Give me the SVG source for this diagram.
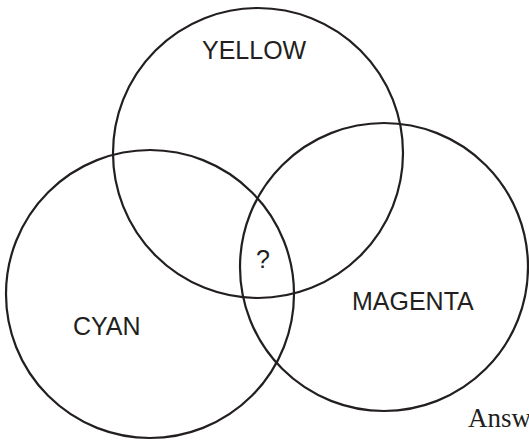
<svg xmlns="http://www.w3.org/2000/svg" width="529" height="440" viewBox="0 0 529 440">
<style>
.c{fill:none;stroke:#231f20;stroke-width:2.2}
.t{font-family:"Liberation Sans",Arial,sans-serif;font-size:25px;fill:#231f20}
.s{font-family:"Liberation Serif","Times New Roman",serif;font-size:27px;fill:#231f20}
</style>
<rect width="529" height="440" fill="#ffffff"/>
<g id="yellow"><circle class="c" cx="258" cy="153" r="145"/><text class="t" x="202" y="59">YELLOW</text></g>
<g id="cyan"><circle class="c" cx="150" cy="294" r="144"/><text class="t" x="73" y="335">CYAN</text></g>
<g id="magenta"><circle class="c" cx="384" cy="267" r="144"/><text class="t" x="352" y="310">MAGENTA</text></g>
<g id="center"><text class="t" x="256" y="268">?</text></g>
<g id="answer"><text class="s" x="468" y="427">Answ</text></g>
<g id="connectors"></g>
</svg>
